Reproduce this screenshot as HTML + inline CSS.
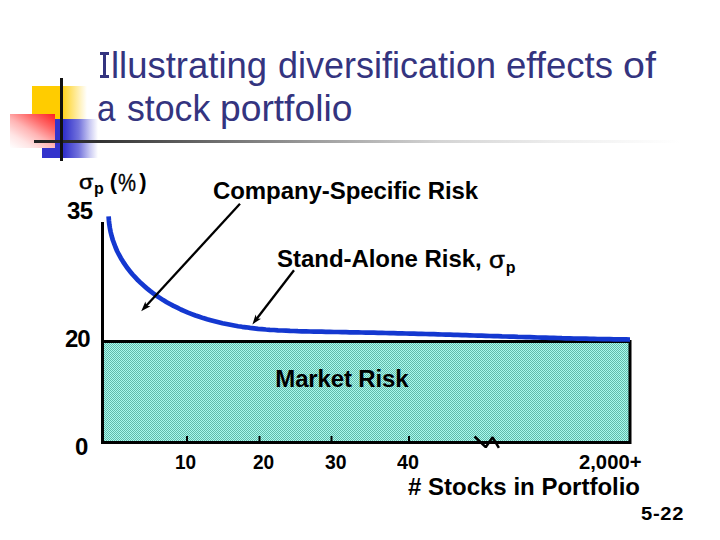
<!DOCTYPE html>
<html><head><meta charset="utf-8">
<style>
html,body{margin:0;padding:0;background:#fff;}
body{width:720px;height:540px;position:relative;overflow:hidden;font-family:"Liberation Sans",sans-serif;}
.a{position:absolute;white-space:nowrap;line-height:1;}
.b{font-weight:bold;color:#000;}
#yel{position:absolute;left:32px;top:86px;width:55px;height:33px;background:linear-gradient(to right,#ffcc00 0%,#ffcc00 50%,#fff 100%);}
#blu{position:absolute;left:42px;top:119px;width:56px;height:39px;background:linear-gradient(to right,#3333cc 0%,#3333cc 40%,#7474dc 66%,#c8c8f2 85%,#fff 100%);}
#red{position:absolute;left:10px;top:114px;width:45px;height:34px;background:linear-gradient(212deg,#ff2020 0%,#ff6a6a 28%,#ffb4b4 52%,#ffe4e4 76%,#fff 100%);}
#vl{position:absolute;left:60px;top:78px;width:3px;height:83px;background:#111;}
#hl{position:absolute;left:34px;top:140px;width:646px;height:3px;background:linear-gradient(to right,#222 0%,#333 10%,#666 25.7%,#a0a0a0 44.3%,#d4d4d4 62.8%,#eee 81.4%,#fff 100%);}
.t{color:#34347f;font-size:36px;transform-origin:0 0;}
</style></head>
<body>
<div id="yel"></div>
<div id="blu"></div>
<div id="red"></div>
<div id="hl"></div>
<div id="vl"></div>

<div style="position:absolute;left:103.3px;top:52.2px;width:2.8px;height:25.4px;background:#34347f;"></div>
<div style="position:absolute;left:100.3px;top:52.2px;width:8.4px;height:2.6px;background:#34347f;"></div>
<div style="position:absolute;left:100.3px;top:75px;width:8.4px;height:2.6px;background:#34347f;"></div>
<div class="a t" style="left:111.07px;top:47.7px;transform:scaleX(1.0127);">llustrating</div>
<div class="a t" style="left:278.0px;top:47.7px;transform:scaleX(0.9991);">diversification</div>
<div class="a t" style="left:506.37px;top:47.7px;transform:scaleX(1.0147);">effects</div>
<div class="a t" style="left:622.81px;top:47.7px;transform:scaleX(1.0929);">of</div>
<div class="a t" style="left:97.36px;top:90.6px;transform:scaleX(0.9222);">a</div>
<div class="a t" style="left:127.31px;top:90.6px;transform:scaleX(0.9916);">stock</div>
<div class="a t" style="left:220.43px;top:90.6px;transform:scaleX(1.0336);">portfolio</div>

<svg width="720" height="540" style="position:absolute;left:0;top:0">
  <defs><pattern id="ck" x="0" y="0" width="2" height="2" patternUnits="userSpaceOnUse"><rect width="2" height="2" fill="#aafaee"/><rect width="1" height="1" fill="#62b9aa"/><rect x="1" y="1" width="1" height="1" fill="#62b9aa"/></pattern></defs>
  <rect x="104" y="342" width="525" height="100" fill="url(#ck)" shape-rendering="crispEdges"/>
  <path d="M102.5 222 V442.5 H630 V341.5 H102.5" fill="none" stroke="#000" stroke-width="3"/>
  <path d="M108.6 216.3 L108.9 220.5 L109.3 224.4 L109.9 228.2 L110.7 232.2 L111.7 236.2 L112.8 240.0 L114.2 243.8 L115.6 247.5 L117.2 251.2 L119.0 254.7 L120.9 258.2 L123.0 261.6 L125.2 264.9 L127.6 268.3 L130.1 271.4 L132.6 274.5 L135.3 277.4 L138.0 280.3 L140.9 283.1 L143.9 285.8 L146.9 288.4 L150.0 290.9 L153.2 293.3 L156.5 295.7 L159.8 297.9 L163.2 300.1 L166.7 302.2 L170.0 304.0 L173.5 305.9 L177.2 307.7 L180.8 309.5 L184.5 311.1 L188.0 312.6 L191.8 314.1 L195.5 315.5 L199.4 316.8 L203.2 318.1 L207.1 319.3 L210.7 320.3 L214.6 321.3 L218.6 322.3 L222.5 323.2 L226.5 324.0 L230.4 324.8 L234.1 325.5 L238.1 326.2 L242.1 326.8 L246.1 327.3 L250.1 327.9 L254.1 328.3 L258.1 328.8 L261.9 329.1 L265.9 329.5 L269.9 329.8 L274.0 330.0 L278.0 330.3 L282.0 330.5 L286.1 330.7 L290.1 330.9 L293.8 331.0 L297.9 331.2 L301.9 331.3 L306.0 331.4 L310.0 331.5 L314.0 331.6 L318.1 331.6 L321.8 331.7 L325.9 331.8 L329.9 331.9 L333.9 332.0 L338.0 332.0 L342.0 332.1 L346.0 332.2 L349.8 332.3 L353.8 332.3 L357.9 332.4 L361.9 332.5 L365.9 332.6 L370.0 332.7 L374.0 332.7 L378.0 332.8 L382.1 332.9 L385.8 333.0 L389.8 333.1 L393.9 333.2 L397.9 333.3 L401.9 333.4 L406.0 333.5 L410.0 333.6 L414.0 333.7 L418.1 333.8 L421.8 333.9 L425.8 334.0 L429.9 334.1 L433.9 334.2 L437.9 334.3 L442.0 334.5 L446.0 334.6 L450.1 334.7 L453.8 334.8 L457.8 334.9 L461.9 335.1 L465.9 335.2 L469.9 335.3 L474.0 335.5 L478.0 335.6 L481.8 335.7 L485.8 335.8 L489.8 336.0 L493.9 336.1 L497.9 336.2 L502.0 336.4 L506.0 336.5 L509.7 336.6 L513.8 336.7 L517.8 336.9 L521.9 337.0 L525.9 337.1 L529.9 337.2 L534.0 337.4 L537.7 337.5 L541.8 337.6 L545.8 337.7 L549.8 337.8 L553.9 337.9 L557.9 338.0 L562.0 338.2 L566.0 338.3 L569.7 338.4 L573.8 338.5 L577.8 338.6 L581.9 338.7 L585.9 338.7 L589.9 338.8 L594.0 338.9 L597.7 339.0 L601.7 339.1 L605.8 339.1 L609.8 339.2 L613.9 339.3 L617.9 339.3 L621.9 339.4 L626.0 339.4 L629.7 339.5 L630.0 339.5" fill="none" stroke="#1438d0" stroke-width="4.7" stroke-linejoin="round"/>
  <g stroke="#000" stroke-width="2" fill="none">
    <line x1="187" y1="436" x2="187" y2="442"/>
    <line x1="259.5" y1="436" x2="259.5" y2="442"/>
    <line x1="331.5" y1="436" x2="331.5" y2="442"/>
    <line x1="409" y1="436" x2="409" y2="442"/>
    <polyline points="474.6,436.5 485.7,447.2 492.6,437.3 498.9,447.9" stroke-width="2.5" stroke-linejoin="bevel"/>
  </g>
  <g stroke="#000" stroke-width="2.3" fill="none">
    <line x1="240" y1="203.8" x2="146" y2="306"/>
    <line x1="294" y1="270.2" x2="256.5" y2="319"/>
  </g>
  <g fill="#000">
    <polygon points="141.2,311.3 150.5,306.3 146.3,305.8 145.4,301.6"/>
    <polygon points="252.4,324.4 261.0,318.8 256.8,318.6 255.6,314.6"/>
  </g>
</svg>

<div class="a" style="left:79px;top:170.5px;font-size:21px;-webkit-text-stroke:0.5px #000;transform:scaleX(1.1);transform-origin:0 0;">σ</div>
<div class="a b" style="left:94px;top:181px;font-size:16px;">p</div>
<div class="a b" style="left:109.7px;top:170.6px;font-size:22px;">(</div>
<div class="a" style="left:118.2px;top:171.6px;font-size:23px;-webkit-text-stroke:0.3px #000;transform:scaleX(0.88);transform-origin:0 0;">%</div>
<div class="a b" style="left:139.2px;top:170.6px;font-size:22px;">)</div>
<div class="a b" style="left:67px;top:199px;font-size:24px;letter-spacing:-0.6px;">35</div>
<div class="a b" style="left:213px;top:179px;font-size:24px;letter-spacing:-0.08px;">Company-Specific Risk</div>
<div class="a b" style="left:277.1px;top:246.9px;font-size:24px;letter-spacing:-0.05px;">Stand-Alone Risk,</div>
<div class="a" style="left:488.5px;top:247.5px;font-size:24px;-webkit-text-stroke:0.5px #000;transform:scaleX(1.07);transform-origin:0 0;">σ</div>
<div class="a b" style="left:505.8px;top:259.6px;font-size:16px;">p</div>
<div class="a b" style="left:65px;top:327px;font-size:24px;letter-spacing:-1px;">20</div>
<div class="a b" style="left:275.3px;top:366.8px;font-size:24px;letter-spacing:-0.15px;">Market Risk</div>
<div class="a b" style="left:75px;top:434.9px;font-size:24px;">0</div>
<div class="a b" style="left:175.1px;top:451.2px;font-size:21px;transform:scaleX(0.9045);transform-origin:0 0;">10</div>
<div class="a b" style="left:253.29px;top:451.2px;font-size:21px;transform:scaleX(0.9091);transform-origin:0 0;">20</div>
<div class="a b" style="left:324.88px;top:451.2px;font-size:21px;transform:scaleX(0.9227);transform-origin:0 0;">30</div>
<div class="a b" style="left:396.7px;top:451.2px;font-size:21px;transform:scaleX(0.9391);transform-origin:0 0;">40</div>
<div class="a b" style="left:579.14px;top:451.2px;font-size:21px;transform:scaleX(0.9635);transform-origin:0 0;">2,000+</div>
<div class="a b" style="left:408px;top:475px;font-size:24px;">#&nbsp;Stocks in Portfolio</div>
<div class="a b" style="left:640.7px;top:505px;font-size:18px;letter-spacing:0.6px;transform:scaleX(1.12);transform-origin:0 0;">5-22</div>
</body></html>
